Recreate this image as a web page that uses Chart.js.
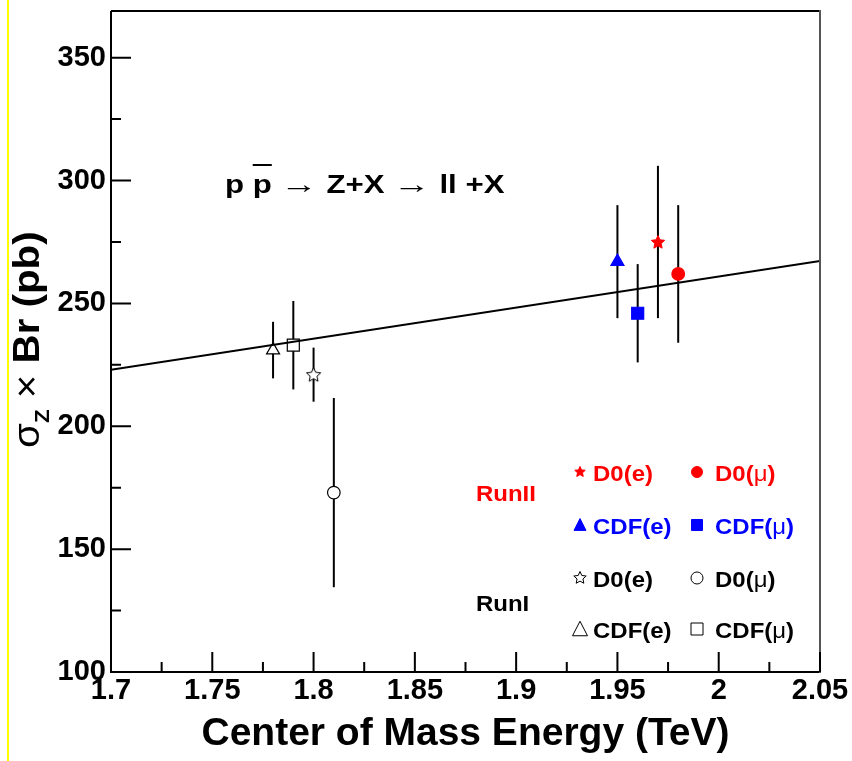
<!DOCTYPE html>
<html>
<head>
<meta charset="utf-8">
<script src="https://cdn.jsdelivr.net/npm/chart.js@4/dist/chart.umd.min.js"></script>
<style>
html,body{margin:0;padding:0;background:#fff;overflow:hidden;}
#wrap{position:relative;width:852px;height:761px;}
canvas{display:block;}
</style>
</head>
<body>
<div id="wrap"><canvas id="c" width="852" height="761"></canvas></div>
<script>
// ---------------- data ----------------
const seriesNames = ['CDF(e) RunI', 'CDF(μ) RunI', 'D0(e) RunI', 'D0(μ) RunI',
                     'CDF(e) RunII', 'CDF(μ) RunII', 'D0(e) RunII', 'D0(μ) RunII'];
const energyTeV = [1.78, 1.79, 1.80, 1.81, 1.95, 1.96, 1.97, 1.98];
const sigmaBr   = [231, 233, 221, 173, 267, 246, 275, 262];
const sigmaErr  = [11.5, 18, 11, 38.5, 23, 20, 31, 28];
const theoryE     = [1.7, 2.05];
const theorySigma = [223, 267.3];
const xTicks = [1.7, 1.75, 1.8, 1.85, 1.9, 1.95, 2.0, 2.05];
const xTickLabels = ['1.7', '1.75', '1.8', '1.85', '1.9', '1.95', '2', '2.05'];
const yTicks = [100, 150, 200, 250, 300, 350];
const yTickLabels = ['100', '150', '200', '250', '300', '350'];
const runLabels = ['RunII', 'RunI'];
const legendLabels = [['D0(e)', 'D0(μ)'], ['CDF(e)', 'CDF(μ)'], ['D0(e)', 'D0(μ)'], ['CDF(e)', 'CDF(μ)']];

// ---------------- styles ----------------
const RED = '#ff0000', BLUE = '#0000ff', BLACK = '#000000';
const markerShape = ['triangle', 'rect', 'star', 'circle', 'triangle', 'rect', 'star', 'circle'];
const markerFill  = ['#ffffff', '#ffffff', '#ffffff', '#ffffff', BLUE, BLUE, RED, RED];
const markerLine  = [BLACK, BLACK, BLACK, BLACK, BLUE, BLUE, RED, RED];
const FONT = '"Liberation Sans", Arial, Helvetica, sans-serif';

function starPath(ctx, cx, cy, R, r) {
  ctx.beginPath();
  for (let k = 0; k < 10; k++) {
    const ang = -Math.PI / 2 + k * Math.PI / 5;
    const rad = (k % 2 === 0) ? R : r;
    const px = cx + rad * Math.cos(ang), py = cy + rad * Math.sin(ang);
    if (k === 0) ctx.moveTo(px, py); else ctx.lineTo(px, py);
  }
  ctx.closePath();
}
function makeStar(size, fill, stroke) {
  const cv = document.createElement('canvas');
  cv.width = size + 4; cv.height = size + 4;
  const c = cv.getContext('2d');
  starPath(c, cv.width / 2, cv.height / 2 + 0.5, size / 2, size / 4.2);
  c.fillStyle = fill; c.fill();
  c.lineWidth = 1; c.strokeStyle = stroke; c.stroke();
  return cv;
}
const starOpen = makeStar(15, '#ffffff', BLACK);
const starRed = makeStar(14, RED, RED);

const pointStyles = markerShape.map((s, i) => s === 'star' ? (i < 4 ? starOpen : starRed) : s);
const pointRadii = markerShape.map(s => s === 'rect' ? 8.5 : s === 'triangle' ? 7.5 : s === 'circle' ? 6.3 : 7);

function drawMarker(ctx, shape, x, y, size, fill, stroke) {
  ctx.save();
  ctx.fillStyle = fill; ctx.strokeStyle = stroke; ctx.lineWidth = 1;
  ctx.beginPath();
  if (shape === 'circle') {
    ctx.arc(x, y, size / 2, 0, Math.PI * 2);
  } else if (shape === 'rect') {
    ctx.rect(x - size / 2, y - size / 2, size, size);
  } else if (shape === 'triangle') {
    const h = size * 0.9;
    ctx.moveTo(x, y - h / 2 - 1);
    ctx.lineTo(x + size / 2, y + h / 2);
    ctx.lineTo(x - size / 2, y + h / 2);
    ctx.closePath();
  } else if (shape === 'star') {
    starPath(ctx, x, y, size / 2, size / 4.2);
  }
  ctx.fill(); ctx.stroke();
  ctx.restore();
}

// draw a sequence of text pieces with horizontal stretch
function drawPieces(ctx, pieces, x, y, sx) {
  ctx.save();
  ctx.translate(x, y);
  ctx.scale(sx, 1);
  let cx = 0;
  ctx.textBaseline = 'alphabetic';
  ctx.textAlign = 'left';
  for (const p of pieces) {
    ctx.font = p.font;
    ctx.fillStyle = p.color || BLACK;
    const k = p.sx || 1;
    const w = ctx.measureText(p.t).width * k;
    ctx.save();
    ctx.translate(cx, p.dy || 0);
    ctx.scale(k, 1);
    ctx.fillText(p.t, 0, 0);
    ctx.restore();
    if (p.over) {
      ctx.fillRect(cx, p.over, w, 2);
    }
    cx += w;
  }
  ctx.restore();
}

const decorPlugin = {
  id: 'decor',
  beforeDraw(chart) {
    const ctx = chart.ctx;
    ctx.save();
    ctx.fillStyle = '#ffffff';
    ctx.fillRect(0, 0, chart.width, chart.height);
    ctx.fillStyle = '#ffff00';
    ctx.fillRect(7, 0, 2, chart.height);
    ctx.restore();
  },
  beforeDatasetsDraw(chart) {
    const ctx = chart.ctx;
    const xs = chart.scales.x, ys = chart.scales.y;
    ctx.save();
    ctx.strokeStyle = BLACK;
    ctx.lineWidth = 2;
    for (let i = 0; i < energyTeV.length; i++) {
      const px = xs.getPixelForValue(energyTeV[i]);
      const y1 = ys.getPixelForValue(sigmaBr[i] + sigmaErr[i]);
      const y2 = ys.getPixelForValue(sigmaBr[i] - sigmaErr[i]);
      ctx.beginPath(); ctx.moveTo(px, y1); ctx.lineTo(px, y2); ctx.stroke();
    }
    ctx.restore();
  },
  afterDraw(chart) {
    const ctx = chart.ctx;
    const xs = chart.scales.x, ys = chart.scales.y;
    const {left, right, top, bottom} = chart.chartArea;
    ctx.save();
    // frame
    ctx.strokeStyle = BLACK; ctx.lineWidth = 2;
    ctx.beginPath();
    ctx.moveTo(left, top); ctx.lineTo(right, top);
    ctx.moveTo(left, top); ctx.lineTo(left, bottom); ctx.lineTo(right, bottom);
    ctx.stroke();
    ctx.strokeStyle = '#555555';
    ctx.beginPath(); ctx.moveTo(right, top - 1); ctx.lineTo(right, bottom + 1); ctx.stroke();
    // ticks (inside)
    ctx.strokeStyle = BLACK; ctx.lineWidth = 2;
    const xMinor = xTicks.slice(0, -1).map((v, i) => (v + xTicks[i + 1]) / 2);
    const yMinor = yTicks.map(v => v + 25).filter(v => v < ys.max);
    ctx.beginPath();
    xTicks.forEach(v => { const p = xs.getPixelForValue(v); ctx.moveTo(p, bottom); ctx.lineTo(p, bottom - 20); });
    xMinor.forEach(v => { const p = xs.getPixelForValue(v); ctx.moveTo(p, bottom); ctx.lineTo(p, bottom - 10); });
    yTicks.forEach(v => { const p = ys.getPixelForValue(v); ctx.moveTo(left, p); ctx.lineTo(left + 20, p); });
    yMinor.forEach(v => { const p = ys.getPixelForValue(v); ctx.moveTo(left, p); ctx.lineTo(left + 10, p); });
    ctx.stroke();

    // y axis title (rotated)
    ctx.save();
    ctx.translate(39, 448);
    ctx.rotate(-Math.PI / 2);
    drawPieces(ctx, [
      {t: 'σ', font: '36px ' + FONT},
      {t: 'Z', font: 'bold 20px ' + FONT, dy: 10},
      {t: ' × ', font: '36px ' + FONT},
      {t: 'Br (pb)', font: 'bold 36px ' + FONT}
    ], 0, 0, 1.12);
    ctx.restore();

    // process label
    drawPieces(ctx, [
      {t: 'p', font: 'bold 26px ' + FONT},
      {t: ' ', font: 'bold 26px ' + FONT},
      {t: 'p', font: 'bold 26px ' + FONT, over: -29},
      {t: ' ', font: 'bold 26px ' + FONT},
      {t: '→', font: '26px ' + FONT, sx: 1.2},
      {t: ' ', font: 'bold 26px ' + FONT},
      {t: 'Z+X', font: 'bold 26px ' + FONT},
      {t: ' ', font: 'bold 26px ' + FONT},
      {t: '→', font: '26px ' + FONT, sx: 1.2},
      {t: ' ', font: 'bold 26px ' + FONT},
      {t: 'll', font: 'bold 26px ' + FONT},
      {t: ' ', font: 'bold 26px ' + FONT},
      {t: '+X', font: 'bold 26px ' + FONT}
    ], 225, 193, 1.2);

    // legend
    const LF = 'bold 22px ' + FONT, LG = '22px ' + FONT;
    drawPieces(ctx, [{t: runLabels[0], font: LF, color: RED}], 476, 501, 1.09);
    drawPieces(ctx, [{t: runLabels[1], font: LF, color: BLACK}], 476, 611, 1.09);
    const rowY = [473, 526, 579, 630];
    const colMarkX = [580, 697];
    const colTextX = [593, 715];
    const rowColor = [RED, BLUE, BLACK, BLACK];
    const rowShapes = [['star', 'circle'], ['triangle', 'rect'], ['star', 'circle'], ['triangle', 'rect']];
    const rowFill = [[RED, RED], [BLUE, BLUE], ['#fff', '#fff'], ['#fff', '#fff']];
    const rowSizes = [[11, 11], [12, 11], [13, 12], [15, 12]];
    for (let r = 0; r < 4; r++) {
      for (let c = 0; c < 2; c++) {
        const stroke = rowColor[r];
        drawMarker(ctx, rowShapes[r][c], colMarkX[c], rowY[r] - 1, rowSizes[r][c], rowFill[r][c], stroke);
        const lab = legendLabels[r][c];
        const parts = [];
        const mu = lab.indexOf('μ');
        if (mu >= 0) {
          parts.push({t: lab.slice(0, mu), font: LF, color: rowColor[r]});
          parts.push({t: 'μ', font: LG, color: rowColor[r]});
          parts.push({t: lab.slice(mu + 1), font: LF, color: rowColor[r]});
        } else {
          parts.push({t: lab, font: LF, color: rowColor[r]});
        }
        drawPieces(ctx, parts, colTextX[c], rowY[r] + 8, 1.09);
      }
    }
    ctx.restore();
  }
};

const tickFont = {family: FONT, size: 29, weight: 'bold'};

new Chart(document.getElementById('c'), {
  type: 'scatter',
  data: {
    datasets: [
      {
        type: 'line',
        label: 'Theory',
        data: theoryE.map((x, i) => ({x: x, y: theorySigma[i]})),
        borderColor: BLACK,
        borderWidth: 2,
        pointRadius: 0,
        fill: false,
        tension: 0
      },
      {
        label: 'Measurements',
        data: energyTeV.map((x, i) => ({x: x, y: sigmaBr[i]})),
        pointStyle: pointStyles,
        pointRadius: pointRadii,
        pointBackgroundColor: markerFill,
        pointBorderColor: markerLine,
        pointBorderWidth: 1.2
      }
    ]
  },
  options: {
    responsive: false,
    animation: false,
    devicePixelRatio: 1,
    layout: {padding: {left: 0, right: 32, top: 11, bottom: 0}},
    plugins: {legend: {display: false}, tooltip: {enabled: false}},
    scales: {
      x: {
        type: 'linear',
        min: 1.7, max: 2.05,
        afterBuildTicks: s => { s.ticks = xTicks.map(v => ({value: v})); },
        afterFit: s => { s.height = 89; s.paddingLeft = 0; s.paddingRight = 0; },
        grid: {display: false, drawTicks: false},
        border: {display: false},
        ticks: {
          font: tickFont, color: BLACK, padding: 2,
          autoSkip: false, maxRotation: 0, minRotation: 0,
          callback: (v, i) => xTickLabels[i]
        },
        title: {
          display: true, text: 'Center of Mass Energy (TeV)',
          font: {family: FONT, size: 39, weight: 'bold'}, color: BLACK,
          padding: {top: 0, bottom: 3}
        }
      },
      y: {
        type: 'linear',
        min: 100, max: 369,
        afterBuildTicks: s => { s.ticks = yTicks.map(v => ({value: v})); },
        afterFit: s => { s.width = 111; s.paddingTop = 0; s.paddingBottom = 0; },
        grid: {display: false, drawTicks: false},
        border: {display: false},
        ticks: {
          font: tickFont, color: BLACK, padding: 5,
          autoSkip: false,
          callback: (v, i) => yTickLabels[i]
        }
      }
    }
  },
  plugins: [decorPlugin]
});
</script>
</body>
</html>
